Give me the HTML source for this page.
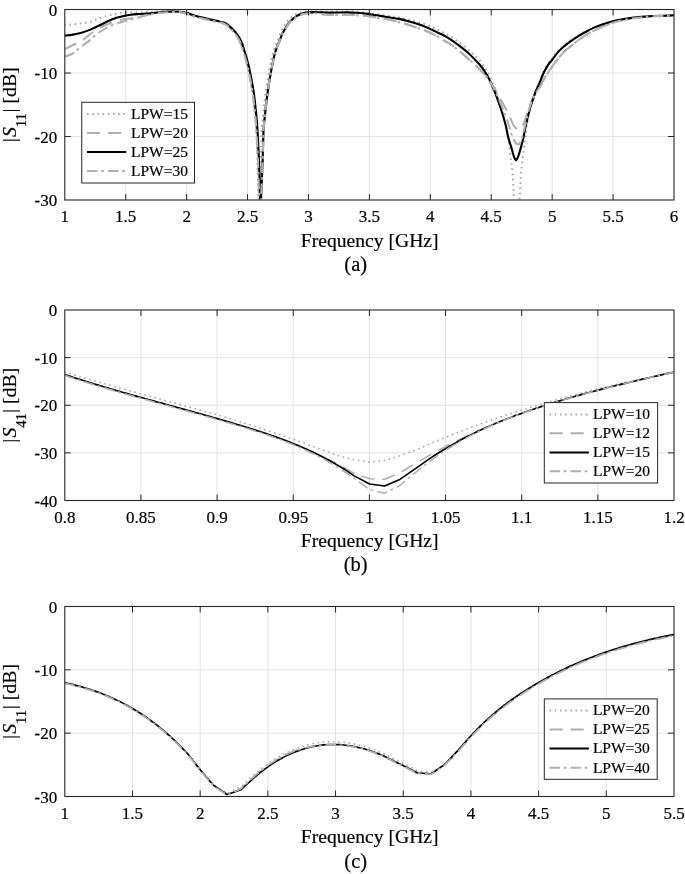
<!DOCTYPE html>
<html><head><meta charset="utf-8"><style>
html,body{margin:0;padding:0;background:#fff;width:685px;height:874px;overflow:hidden}
svg{display:block;will-change:transform}
text{font-family:"Liberation Serif",serif;stroke:#000;stroke-width:0.2px;paint-order:stroke}
</style></head><body>
<svg width="685" height="874" viewBox="0 0 685 874" font-family='"Liberation Serif", serif' fill="#000"><rect width="685" height="874" fill="#fff"/>
<path d="M125.72,9.5V200 M186.64,9.5V200 M247.56,9.5V200 M308.48,9.5V200 M369.4,9.5V200 M430.32,9.5V200 M491.24,9.5V200 M552.16,9.5V200 M613.08,9.5V200 M64.8,136.5H674 M64.8,73H674" stroke="#e3e3e3" stroke-width="1" fill="none"/>
<clipPath id="ca"><rect x="64.8" y="9.5" width="609.2" height="190.5"/></clipPath>
<path d="M64.3,24.9 C65.25,24.88 67.28,25.05 70,24.8 C72.72,24.55 77.08,23.95 80.6,23.4 C84.12,22.85 87.73,22.43 91.1,21.5 C94.47,20.57 97.43,18.9 100.8,17.8 C104.17,16.7 107.8,15.73 111.3,14.9 C114.8,14.07 118.45,13.22 121.8,12.8 C125.15,12.38 128.05,12.48 131.4,12.4 C134.75,12.32 138.7,12.37 141.9,12.3 C145.1,12.23 147.58,12.13 150.6,12 C153.62,11.87 156.43,11.63 160,11.5 C163.57,11.37 168.83,11.2 172,11.2 C175.17,11.2 176.58,11.27 179,11.5 C181.42,11.73 184.08,12.02 186.5,12.6 C188.92,13.18 190.87,14.2 193.5,15 C196.13,15.8 199.38,16.67 202.3,17.4 C205.22,18.13 208.38,18.82 211,19.4 C213.62,19.98 215.8,20.37 218,20.9 C220.2,21.43 222.45,21.88 224.2,22.6 C225.95,23.32 227.12,24.2 228.5,25.2 C229.88,26.2 231.25,27.4 232.5,28.6 C233.75,29.8 234.92,30.92 236,32.4 C237.08,33.88 238,35.48 239,37.5 C240,39.52 241.07,41.75 242,44.5 C242.93,47.25 243.77,50.92 244.6,54 C245.43,57.08 246.27,59.92 247,63 C247.73,66.08 248.1,67.77 249,72.5 C249.9,77.23 251.43,84.82 252.4,91.4 C253.37,97.98 254.17,105.57 254.8,112 C255.43,118.43 255.75,121.85 256.2,130 C256.65,138.15 257.13,149.23 257.5,160.9 C257.87,172.57 258.22,190.98 258.4,200 C258.58,209.02 258.57,212.5 258.6,215 M259.2,215 C259.23,212.5 259.13,209.02 259.4,200 C259.67,190.98 260.4,172.57 260.8,160.9 C261.2,149.23 261.37,138.15 261.8,130 C262.23,121.85 262.72,118.43 263.4,112 C264.08,105.57 265,97.92 265.9,91.4 C266.8,84.88 267.75,78.8 268.8,72.9 C269.85,67 271.25,60.07 272.2,56 C273.15,51.93 273.65,50.92 274.5,48.5 C275.35,46.08 276.33,44 277.3,41.5 C278.27,39 279.22,35.95 280.3,33.5 C281.38,31.05 282.5,28.98 283.8,26.8 C285.1,24.62 286.35,22.33 288.1,20.4 C289.85,18.47 292.25,16.5 294.3,15.2 C296.35,13.9 298.37,13.2 300.4,12.6 C302.43,12 304.23,11.8 306.5,11.6 C308.77,11.4 311.33,11.4 314,11.4 C316.67,11.4 319.83,11.55 322.5,11.6 C325.17,11.65 327.28,11.7 330,11.7 C332.72,11.7 335.88,11.63 338.8,11.6 C341.72,11.57 344.58,11.47 347.5,11.5 C350.42,11.53 353.38,11.63 356.3,11.8 C359.22,11.97 362.38,12.23 365,12.5 C367.62,12.77 369.5,13.05 372,13.4 C374.5,13.75 377,14.13 380,14.6 C383,15.07 386.87,15.73 390,16.2 C393.13,16.67 395.88,16.88 398.8,17.4 C401.72,17.92 404.58,18.6 407.5,19.3 C410.42,20 413.38,20.8 416.3,21.6 C419.22,22.4 422.38,23.2 425,24.1 C427.62,25 429.8,26.02 432,27 C434.2,27.98 436.15,29 438.2,30 C440.25,31 442.33,31.95 444.3,33 C446.27,34.05 447.58,34.8 450,36.3 C452.42,37.8 455.88,39.92 458.8,42 C461.72,44.08 464.58,46.3 467.5,48.8 C470.42,51.3 473.88,54.55 476.3,57 C478.72,59.45 480.38,61.42 482,63.5 C483.62,65.58 484.77,67.48 486,69.5 C487.23,71.52 488.4,73.6 489.4,75.6 C490.4,77.6 490.93,78.93 492,81.5 C493.07,84.07 494.3,86.75 495.8,91 C497.3,95.25 499.47,101.83 501,107 C502.53,112.17 503.77,116.57 505,122 C506.23,127.43 507.63,135.02 508.4,139.6 C509.17,144.18 509.17,146.02 509.6,149.5 C510.03,152.98 510.62,157.82 511,160.5 C511.38,163.18 511.6,163.05 511.9,165.6 C512.2,168.15 512.55,172.3 512.8,175.8 C513.05,179.3 513.22,183.1 513.4,186.6 C513.58,190.1 513.77,192.07 513.9,196.8 C514.03,201.53 514.15,211.97 514.2,215 M519.2,215 C519.23,212.38 519.28,202.8 519.4,199.3 C519.52,195.8 519.73,196.63 519.9,194 C520.07,191.37 520.2,186.95 520.4,183.5 C520.6,180.05 520.82,176.75 521.1,173.3 C521.38,169.85 521.63,166.95 522.1,162.8 C522.57,158.65 523.35,152.75 523.9,148.4 C524.45,144.05 524.92,140.6 525.4,136.7 C525.88,132.8 526.07,129.37 526.8,125 C527.53,120.63 528.83,114.67 529.8,110.5 C530.77,106.33 531.7,103.08 532.6,100 C533.5,96.92 534.1,94.92 535.2,92 C536.3,89.08 537.87,85.77 539.2,82.5 C540.53,79.23 541.77,75.45 543.2,72.4 C544.63,69.35 546.42,66.33 547.8,64.2 C549.18,62.07 550.22,61.27 551.5,59.6 C552.78,57.93 553.87,56.15 555.5,54.2 C557.13,52.25 558.88,50.1 561.3,47.9 C563.72,45.7 567.22,43.02 570,41 C572.78,38.98 575.5,37.3 578,35.8 C580.5,34.3 582.23,33.43 585,32 C587.77,30.57 590.57,28.87 594.6,27.2 C598.63,25.53 604.33,23.38 609.2,22 C614.07,20.62 618.93,19.73 623.8,18.9 C628.67,18.07 633.53,17.5 638.4,17 C643.27,16.5 646.98,16.2 653,15.9 C659.02,15.6 670.92,15.32 674.5,15.2" fill="none" stroke="#a8a8a8" stroke-width="2.1" stroke-linejoin="round" stroke-linecap="butt" stroke-dasharray="1.6 3.6" clip-path="url(#ca)"/>
<path d="M64.3,49.3 C66.15,48.38 72.1,45.52 75.4,43.8 C78.7,42.08 81.18,40.97 84.1,39 C87.02,37.03 89.97,34.03 92.9,32 C95.83,29.97 98.63,28.33 101.7,26.8 C104.77,25.27 107.95,23.97 111.3,22.8 C114.65,21.63 118.45,20.57 121.8,19.8 C125.15,19.03 128.35,18.73 131.4,18.2 C134.45,17.67 137.33,17.17 140.1,16.6 C142.87,16.03 145.52,15.33 148,14.8 C150.48,14.27 152.37,13.83 155,13.4 C157.63,12.97 160.88,12.47 163.8,12.2 C166.72,11.93 169.97,11.83 172.5,11.8 C175.03,11.77 176.67,11.7 179,12 C181.33,12.3 184.08,12.92 186.5,13.6 C188.92,14.28 190.87,15.28 193.5,16.1 C196.13,16.92 199.38,17.77 202.3,18.5 C205.22,19.23 208.38,19.92 211,20.5 C213.62,21.08 215.8,21.47 218,22 C220.2,22.53 222.45,22.97 224.2,23.7 C225.95,24.43 227.28,25.42 228.5,26.4 C229.72,27.38 230.42,28.4 231.5,29.6 C232.58,30.8 233.88,32.17 235,33.6 C236.12,35.03 237.12,36.25 238.2,38.2 C239.28,40.15 240.47,42.53 241.5,45.3 C242.53,48.07 243.48,51.72 244.4,54.8 C245.32,57.88 246.22,60.72 247,63.8 C247.78,66.88 248.17,68.57 249.1,73.3 C250.03,78.03 251.62,85.62 252.6,92.2 C253.58,98.78 254.35,106.37 255,112.8 C255.65,119.23 256,122.65 256.5,130.8 C257,138.95 257.55,150.17 258,161.7 C258.45,173.23 258.97,191.12 259.2,200 C259.43,208.88 259.37,212.5 259.4,215 M260.8,215 C260.83,212.5 260.7,209.02 261,200 C261.3,190.98 262.17,172.57 262.6,160.9 C263.03,149.23 263.15,138.15 263.6,130 C264.05,121.85 264.6,118.43 265.3,112 C266,105.57 266.88,97.92 267.8,91.4 C268.72,84.88 269.73,78.8 270.8,72.9 C271.87,67 273.25,60.07 274.2,56 C275.15,51.93 275.65,50.92 276.5,48.5 C277.35,46.08 278.33,43.85 279.3,41.5 C280.27,39.15 281.22,36.62 282.3,34.4 C283.38,32.18 284.5,30.27 285.8,28.2 C287.1,26.13 288.35,23.87 290.1,22 C291.85,20.13 294.25,18.28 296.3,17 C298.35,15.72 300.37,14.93 302.4,14.3 C304.43,13.67 306.57,13.37 308.5,13.2 C310.43,13.03 311.67,13.15 314,13.3 C316.33,13.45 319.83,13.82 322.5,14.1 C325.17,14.38 327.28,14.87 330,15 C332.72,15.13 335.88,14.94 338.8,14.91 C341.72,14.88 344.17,14.74 347.5,14.82 C350.83,14.89 355.15,15.11 358.8,15.34 C362.45,15.57 366.17,15.77 369.4,16.2 C372.63,16.63 374.77,17.3 378.2,17.9 C381.63,18.5 386.57,19.08 390,19.8 C393.43,20.52 395.88,21.42 398.8,22.2 C401.72,22.98 404.58,23.6 407.5,24.5 C410.42,25.4 413.38,26.61 416.3,27.6 C419.22,28.59 422.08,29.31 425,30.47 C427.92,31.63 430.58,32.87 433.8,34.56 C437.02,36.25 441.6,39.04 444.3,40.61 C447,42.18 447.58,42.34 450,44 C452.42,45.66 455.88,48.27 458.8,50.6 C461.72,52.93 464.58,55.45 467.5,58 C470.42,60.55 473.38,63.12 476.3,65.9 C479.22,68.68 482.72,72.02 485,74.7 C487.28,77.38 488.5,79.9 490,82 C491.5,84.1 492.67,85.22 494,87.3 C495.33,89.38 496.5,91.78 498,94.5 C499.5,97.22 501.3,100.47 503,103.6 C504.7,106.73 506.58,109.97 508.2,113.3 C509.82,116.63 511.48,121.18 512.7,123.6 C513.92,126.02 514.53,126.83 515.5,127.8 C516.47,128.77 517.67,129.3 518.5,129.4 C519.33,129.5 519.78,129.07 520.5,128.4 C521.22,127.73 522.05,126.8 522.8,125.4 C523.55,124 524.17,122.23 525,120 C525.83,117.77 526.87,114.67 527.8,112 C528.73,109.33 529.65,106.5 530.6,104 C531.55,101.5 532.52,99.08 533.5,97 C534.48,94.92 535.37,93.33 536.5,91.5 C537.63,89.67 538.95,88.25 540.3,86 C541.65,83.75 543.07,80.58 544.6,78 C546.13,75.42 547.93,72.83 549.5,70.5 C551.07,68.17 552.42,66.17 554,64 C555.58,61.83 557.17,59.67 559,57.5 C560.83,55.33 562.92,53 565,51 C567.08,49 569.12,47.42 571.5,45.5 C573.88,43.58 576.55,41.42 579.3,39.5 C582.05,37.58 585.05,35.7 588,34 C590.95,32.3 593.47,30.97 597,29.3 C600.53,27.63 604.73,25.55 609.2,24 C613.67,22.45 618.93,21.05 623.8,20 C628.67,18.95 633.53,18.3 638.4,17.7 C643.27,17.1 646.98,16.77 653,16.4 C659.02,16.03 670.92,15.65 674.5,15.5" fill="none" stroke="#b0b0b0" stroke-width="2.1" stroke-linejoin="round" stroke-linecap="butt" stroke-dasharray="13.2 7.8" clip-path="url(#ca)"/>
<path d="M64.3,35.6 C65.72,35.43 69.93,35.08 72.8,34.6 C75.67,34.12 78.58,33.53 81.5,32.7 C84.42,31.87 87.38,30.78 90.3,29.6 C93.22,28.42 96.08,27 99,25.6 C101.92,24.2 104.88,22.5 107.8,21.2 C110.72,19.9 113.8,18.68 116.5,17.8 C119.2,16.92 121.58,16.42 124,15.9 C126.42,15.38 128.5,15.02 131,14.7 C133.5,14.38 136.33,14.2 139,14 C141.67,13.8 144.33,13.7 147,13.5 C149.67,13.3 152.2,13.07 155,12.8 C157.8,12.53 160.88,12.12 163.8,11.9 C166.72,11.68 169.97,11.52 172.5,11.5 C175.03,11.48 176.67,11.58 179,11.8 C181.33,12.02 184.08,12.23 186.5,12.8 C188.92,13.37 190.87,14.4 193.5,15.2 C196.13,16 199.38,16.87 202.3,17.6 C205.22,18.33 208.38,19.02 211,19.6 C213.62,20.18 215.8,20.57 218,21.1 C220.2,21.63 222.45,22.08 224.2,22.8 C225.95,23.52 227.12,24.37 228.5,25.4 C229.88,26.43 231.25,27.75 232.5,29 C233.75,30.25 234.88,31.48 236,32.9 C237.12,34.32 238.12,35.57 239.2,37.5 C240.28,39.43 241.47,41.75 242.5,44.5 C243.53,47.25 244.48,50.92 245.4,54 C246.32,57.08 247.22,59.92 248,63 C248.78,66.08 249.17,67.77 250.1,72.5 C251.03,77.23 252.62,84.82 253.6,91.4 C254.58,97.98 255.35,105.57 256,112 C256.65,118.43 257,121.85 257.5,130 C258,138.15 258.55,149.23 259,160.9 C259.45,172.57 259.97,190.98 260.2,200 C260.43,209.02 260.37,212.5 260.4,215 M260.8,215 C260.83,212.5 260.7,209.02 261,200 C261.3,190.98 262.17,172.57 262.6,160.9 C263.03,149.23 263.15,138.15 263.6,130 C264.05,121.85 264.6,118.43 265.3,112 C266,105.57 266.88,97.92 267.8,91.4 C268.72,84.88 269.73,78.8 270.8,72.9 C271.87,67 273.25,60.07 274.2,56 C275.15,51.93 275.65,50.92 276.5,48.5 C277.35,46.08 278.33,43.93 279.3,41.5 C280.27,39.07 281.22,36.22 282.3,33.9 C283.38,31.58 284.5,29.67 285.8,27.6 C287.1,25.53 288.35,23.38 290.1,21.5 C291.85,19.62 294.25,17.62 296.3,16.3 C298.35,14.98 300.37,14.25 302.4,13.6 C304.43,12.95 306.57,12.65 308.5,12.4 C310.43,12.15 311.67,12.1 314,12.1 C316.33,12.1 319.83,12.32 322.5,12.4 C325.17,12.48 327.28,12.58 330,12.6 C332.72,12.62 335.88,12.53 338.8,12.5 C341.72,12.47 344.58,12.35 347.5,12.4 C350.42,12.45 353.38,12.6 356.3,12.8 C359.22,13 362.38,13.3 365,13.6 C367.62,13.9 369.5,14.22 372,14.6 C374.5,14.98 377,15.42 380,15.9 C383,16.38 386.87,17 390,17.5 C393.13,18 395.88,18.32 398.8,18.9 C401.72,19.48 404.58,20.22 407.5,21 C410.42,21.78 413.38,22.65 416.3,23.6 C419.22,24.55 422.38,25.67 425,26.7 C427.62,27.73 429.8,28.78 432,29.8 C434.2,30.82 436.15,31.82 438.2,32.8 C440.25,33.78 442.33,34.65 444.3,35.7 C446.27,36.75 447.58,37.5 450,39.1 C452.42,40.7 455.88,43.1 458.8,45.3 C461.72,47.5 464.58,49.67 467.5,52.3 C470.42,54.93 473.88,58.57 476.3,61.1 C478.72,63.63 480.38,65.43 482,67.5 C483.62,69.57 484.77,71.48 486,73.5 C487.23,75.52 488.4,77.6 489.4,79.6 C490.4,81.6 490.93,83 492,85.5 C493.07,88 494.3,90.65 495.8,94.6 C497.3,98.55 499.38,104.22 501,109.2 C502.62,114.18 504.32,119.92 505.5,124.5 C506.68,129.08 507.08,132.72 508.1,136.7 C509.12,140.68 510.62,145.08 511.6,148.4 C512.58,151.72 513.28,154.62 514,156.6 C514.72,158.58 515.23,160.27 515.9,160.3 C516.57,160.33 517.2,158.78 518,156.8 C518.8,154.82 519.77,151.75 520.7,148.4 C521.63,145.05 522.73,140.6 523.6,136.7 C524.47,132.8 524.87,129.58 525.9,125 C526.93,120.42 528.65,113.37 529.8,109.2 C530.95,105.03 531.85,102.87 532.8,100 C533.75,97.13 534.37,94.85 535.5,92 C536.63,89.15 538.23,86.1 539.6,82.9 C540.97,79.7 542.25,75.85 543.7,72.8 C545.15,69.75 546.92,66.73 548.3,64.6 C549.68,62.47 550.72,61.67 552,60 C553.28,58.33 554.37,56.55 556,54.6 C557.63,52.65 559.38,50.5 561.8,48.3 C564.22,46.1 567.73,43.43 570.5,41.4 C573.27,39.37 575.98,37.62 578.4,36.1 C580.82,34.58 582.3,33.75 585,32.3 C587.7,30.85 590.57,29.08 594.6,27.4 C598.63,25.72 604.33,23.6 609.2,22.2 C614.07,20.8 618.93,19.85 623.8,19 C628.67,18.15 633.53,17.6 638.4,17.1 C643.27,16.6 646.98,16.3 653,16 C659.02,15.7 670.92,15.42 674.5,15.3" fill="none" stroke="#000000" stroke-width="2.1" stroke-linejoin="round" stroke-linecap="butt" clip-path="url(#ca)"/>
<path d="M64.3,56.7 C65.72,56.17 70.52,54.77 72.8,53.5 C75.08,52.23 76.13,50.6 78,49.1 C79.87,47.6 81.95,46.03 84,44.5 C86.05,42.97 87.8,41.9 90.3,39.9 C92.8,37.9 95.5,34.9 99,32.5 C102.5,30.1 107.5,27.25 111.3,25.5 C115.1,23.75 118.45,23.02 121.8,22 C125.15,20.98 128.37,20.23 131.4,19.4 C134.43,18.57 136.9,17.82 140,17 C143.1,16.18 146.67,15.18 150,14.5 C153.33,13.82 156.67,13.3 160,12.9 C163.33,12.5 166.83,12.23 170,12.1 C173.17,11.97 176.25,11.85 179,12.1 C181.75,12.35 184.08,12.93 186.5,13.6 C188.92,14.27 190.87,15.28 193.5,16.1 C196.13,16.92 199.38,17.77 202.3,18.5 C205.22,19.23 208.38,19.92 211,20.5 C213.62,21.08 215.8,21.47 218,22 C220.2,22.53 222.45,22.97 224.2,23.7 C225.95,24.43 227.28,25.42 228.5,26.4 C229.72,27.38 230.42,28.4 231.5,29.6 C232.58,30.8 233.88,32.17 235,33.6 C236.12,35.03 237.12,36.25 238.2,38.2 C239.28,40.15 240.47,42.53 241.5,45.3 C242.53,48.07 243.48,51.72 244.4,54.8 C245.32,57.88 246.22,60.72 247,63.8 C247.78,66.88 248.17,68.57 249.1,73.3 C250.03,78.03 251.62,85.62 252.6,92.2 C253.58,98.78 254.35,106.37 255,112.8 C255.65,119.23 256,122.65 256.5,130.8 C257,138.95 257.55,150.17 258,161.7 C258.45,173.23 258.97,191.12 259.2,200 C259.43,208.88 259.37,212.5 259.4,215 M260.8,215 C260.83,212.5 260.7,209.02 261,200 C261.3,190.98 262.17,172.57 262.6,160.9 C263.03,149.23 263.15,138.15 263.6,130 C264.05,121.85 264.6,118.43 265.3,112 C266,105.57 266.88,97.92 267.8,91.4 C268.72,84.88 269.73,78.8 270.8,72.9 C271.87,67 273.25,60.07 274.2,56 C275.15,51.93 275.65,50.92 276.5,48.5 C277.35,46.08 278.33,43.85 279.3,41.5 C280.27,39.15 281.22,36.62 282.3,34.4 C283.38,32.18 284.5,30.27 285.8,28.2 C287.1,26.13 288.35,23.87 290.1,22 C291.85,20.13 294.25,18.28 296.3,17 C298.35,15.72 300.37,14.93 302.4,14.3 C304.43,13.67 306.57,13.37 308.5,13.2 C310.43,13.03 311.67,13.15 314,13.3 C316.33,13.45 319.83,13.82 322.5,14.1 C325.17,14.38 327.28,14.87 330,15 C332.72,15.13 335.88,14.94 338.8,14.91 C341.72,14.88 344.17,14.74 347.5,14.82 C350.83,14.89 355.15,15.11 358.8,15.34 C362.45,15.57 366.17,15.77 369.4,16.2 C372.63,16.63 374.77,17.3 378.2,17.9 C381.63,18.5 386.57,19.08 390,19.8 C393.43,20.52 395.88,21.42 398.8,22.2 C401.72,22.98 404.58,23.6 407.5,24.5 C410.42,25.4 413.38,26.61 416.3,27.6 C419.22,28.59 422.08,29.31 425,30.47 C427.92,31.63 430.58,32.87 433.8,34.56 C437.02,36.25 441.6,39.04 444.3,40.61 C447,42.18 447.58,42.34 450,44 C452.42,45.66 455.88,48.27 458.8,50.6 C461.72,52.93 464.58,55.45 467.5,58 C470.42,60.55 473.38,63.12 476.3,65.9 C479.22,68.68 482.72,72.02 485,74.7 C487.28,77.38 488.5,79.7 490,82 C491.5,84.3 492.25,85 494,88.5 C495.75,92 498.52,98.3 500.5,103 C502.48,107.7 504.43,112.7 505.9,116.7 C507.37,120.7 508.25,123.75 509.3,127 C510.35,130.25 511.25,133.73 512.2,136.2 C513.15,138.67 514.05,140.43 515,141.8 C515.95,143.17 517.15,144.12 517.9,144.4 C518.65,144.68 518.9,144.32 519.5,143.5 C520.1,142.68 520.87,141.25 521.5,139.5 C522.13,137.75 522.72,135.25 523.3,133 C523.88,130.75 524.38,128.67 525,126 C525.62,123.33 526.25,120 527,117 C527.75,114 528.58,110.92 529.5,108 C530.42,105.08 531.45,102 532.5,99.5 C533.55,97 534.5,95.17 535.8,93 C537.1,90.83 538.83,89 540.3,86.5 C541.77,84 543.07,80.67 544.6,78 C546.13,75.33 547.93,72.83 549.5,70.5 C551.07,68.17 552.42,66.17 554,64 C555.58,61.83 557.17,59.67 559,57.5 C560.83,55.33 562.92,53 565,51 C567.08,49 569.12,47.42 571.5,45.5 C573.88,43.58 576.55,41.42 579.3,39.5 C582.05,37.58 585.05,35.7 588,34 C590.95,32.3 593.47,30.97 597,29.3 C600.53,27.63 604.73,25.55 609.2,24 C613.67,22.45 618.93,21.05 623.8,20 C628.67,18.95 633.53,18.3 638.4,17.7 C643.27,17.1 646.98,16.77 653,16.4 C659.02,16.03 670.92,15.65 674.5,15.5" fill="none" stroke="#b0b0b0" stroke-width="2.1" stroke-linejoin="round" stroke-linecap="butt" stroke-dasharray="10.6 3.6 2.7 4.1" clip-path="url(#ca)"/>
<path d="M125.72,200v-6 M125.72,9.5v6 M186.64,200v-6 M186.64,9.5v6 M247.56,200v-6 M247.56,9.5v6 M308.48,200v-6 M308.48,9.5v6 M369.4,200v-6 M369.4,9.5v6 M430.32,200v-6 M430.32,9.5v6 M491.24,200v-6 M491.24,9.5v6 M552.16,200v-6 M552.16,9.5v6 M613.08,200v-6 M613.08,9.5v6 M64.8,136.5h6 M674,136.5h-6 M64.8,73h6 M674,73h-6" stroke="#262626" stroke-width="1" fill="none"/>
<rect x="64.8" y="9.5" width="609.2" height="190.5" fill="none" stroke="#262626" stroke-width="1.1"/>
<text x="64.8" y="222.1" font-size="17" text-anchor="middle">1</text>
<text x="125.72" y="222.1" font-size="17" text-anchor="middle">1.5</text>
<text x="186.64" y="222.1" font-size="17" text-anchor="middle">2</text>
<text x="247.56" y="222.1" font-size="17" text-anchor="middle">2.5</text>
<text x="308.48" y="222.1" font-size="17" text-anchor="middle">3</text>
<text x="369.4" y="222.1" font-size="17" text-anchor="middle">3.5</text>
<text x="430.32" y="222.1" font-size="17" text-anchor="middle">4</text>
<text x="491.24" y="222.1" font-size="17" text-anchor="middle">4.5</text>
<text x="552.16" y="222.1" font-size="17" text-anchor="middle">5</text>
<text x="613.08" y="222.1" font-size="17" text-anchor="middle">5.5</text>
<text x="674" y="222.1" font-size="17" text-anchor="middle">6</text>
<text x="57.2" y="206.1" font-size="17" text-anchor="end">-30</text>
<text x="57.2" y="142.6" font-size="17" text-anchor="end">-20</text>
<text x="57.2" y="79.1" font-size="17" text-anchor="end">-10</text>
<text x="57.2" y="15.6" font-size="17" text-anchor="end">0</text>
<text x="369.7" y="246.9" font-size="19.6" text-anchor="middle">Frequency [GHz]</text>
<text x="355.7" y="270.6" font-size="20.5" text-anchor="middle">(a)</text>
<g transform="rotate(-90)"><text x="-142.35" y="16.1" font-size="19.8">|</text><text x="-137" y="16.1" font-size="19.8" font-style="italic">S</text><text x="-127.3" y="25.7" font-size="14.8">11</text><text x="-112.45" y="16.1" font-size="19.8">| [dB]</text></g>
<rect x="81.75" y="102.3" width="112.75" height="80.7" fill="#fff" stroke="#262626" stroke-width="1"/>
<path d="M86.95,114H126.25" fill="none" stroke="#a8a8a8" stroke-width="2" stroke-linejoin="round" stroke-linecap="butt" stroke-dasharray="1.6 3.6"/>
<text x="130.95" y="118.8" font-size="15.5">LPW=15</text>
<path d="M86.95,133H126.25" fill="none" stroke="#b0b0b0" stroke-width="2" stroke-linejoin="round" stroke-linecap="butt" stroke-dasharray="13.2 7.8"/>
<text x="130.95" y="137.8" font-size="15.5">LPW=20</text>
<path d="M86.95,152H126.25" fill="none" stroke="#000000" stroke-width="2" stroke-linejoin="round" stroke-linecap="butt"/>
<text x="130.95" y="156.8" font-size="15.5">LPW=25</text>
<path d="M86.95,171H126.25" fill="none" stroke="#b0b0b0" stroke-width="2" stroke-linejoin="round" stroke-linecap="butt" stroke-dasharray="10.6 3.6 2.7 4.1"/>
<text x="130.95" y="175.8" font-size="15.5">LPW=30</text>
<path d="M140.95,310V500.5 M217.1,310V500.5 M293.25,310V500.5 M369.4,310V500.5 M445.55,310V500.5 M521.7,310V500.5 M597.85,310V500.5 M64.8,452.88H674 M64.8,405.25H674 M64.8,357.62H674" stroke="#e3e3e3" stroke-width="1" fill="none"/>
<clipPath id="cb"><rect x="64.8" y="310" width="609.2" height="190.5"/></clipPath>
<path d="M64.3,371.88 L66.3,372.49 L68.3,373.09 L70.3,373.7 L72.3,374.3 L74.3,374.9 L76.3,375.49 L78.3,376.09 L80.3,376.68 L82.3,377.27 L84.3,377.86 L86.3,378.45 L88.3,379.04 L90.3,379.62 L92.3,380.2 L94.3,380.78 L96.3,381.36 L98.3,381.94 L100.3,382.52 L102.3,383.09 L104.3,383.66 L106.3,384.23 L108.3,384.8 L110.3,385.37 L112.3,385.94 L114.3,386.5 L116.3,387.07 L118.3,387.63 L120.3,388.19 L122.3,388.75 L124.3,389.31 L126.3,389.87 L128.3,390.43 L130.3,390.98 L132.3,391.54 L134.3,392.09 L136.3,392.64 L138.3,393.2 L140.3,393.75 L142.3,394.3 L144.3,394.85 L146.3,395.4 L148.3,395.94 L150.3,396.49 L152.3,397.04 L154.3,397.58 L156.3,398.13 L158.3,398.67 L160.3,399.22 L162.3,399.76 L164.3,400.3 L166.3,400.84 L168.3,401.39 L170.3,401.93 L172.3,402.47 L174.3,403.01 L176.3,403.55 L178.3,404.09 L180.3,404.64 L182.3,405.18 L184.3,405.72 L186.3,406.27 L188.3,406.81 L190.3,407.36 L192.3,407.9 L194.3,408.45 L196.3,409 L198.3,409.55 L200.3,410.11 L202.3,410.66 L204.3,411.22 L206.3,411.78 L208.3,412.34 L210.3,412.9 L212.3,413.47 L214.3,414.04 L216.3,414.61 L218.3,415.18 L220.3,415.76 L222.3,416.34 L224.3,416.92 L226.3,417.51 L228.3,418.1 L230.3,418.69 L232.3,419.29 L234.3,419.89 L236.3,420.5 L238.3,421.11 L240.3,421.72 L242.3,422.34 L244.3,422.96 L246.3,423.59 L248.3,424.22 L250.3,424.85 L252.3,425.49 L254.3,426.14 L256.3,426.78 L258.3,427.43 L260.3,428.09 L262.3,428.75 L264.3,429.41 L266.3,430.07 L268.3,430.74 L270.3,431.42 L272.3,432.09 L274.3,432.77 L276.3,433.45 L278.3,434.14 L280.3,434.83 L282.3,435.52 L284.3,436.21 L286.3,436.91 L288.3,437.61 L290.3,438.31 L292.3,439.01 L294.3,439.72 L296.3,440.43 L298.3,441.14 L300.3,441.86 L302.3,442.57 L304.3,443.29 L306.3,444.01 L308.3,444.73 L310.3,445.46 L312.3,446.19 L314.3,446.91 L316.3,447.64 L318.3,448.38 L320.3,449.11 L322.3,449.84 L324.3,450.58 L326.3,451.32 L328.3,452.06 L330.3,452.8 L332.3,453.54 L334.3,454.28 L336.3,455.02 L338.3,455.77 L340,456.4 L354.2,459.8 L369.6,462.1 L384.7,460.4 L399.8,455.8 L415,450.2 L430,443.9 L432,443.05 L434,442.2 L436,441.35 L438,440.51 L440,439.68 L442,438.86 L444,438.03 L446,437.22 L448,436.41 L450,435.6 L452,434.8 L454,434.01 L456,433.22 L458,432.43 L460,431.65 L462,430.88 L464,430.11 L466,429.35 L468,428.59 L470,427.84 L472,427.09 L474,426.35 L476,425.61 L478,424.87 L480,424.15 L482,423.42 L484,422.7 L486,421.99 L488,421.28 L490,420.58 L492,419.88 L494,419.18 L496,418.49 L498,417.81 L500,417.12 L502,416.45 L504,415.78 L506,415.11 L508,414.45 L510,413.79 L512,413.13 L514,412.48 L516,411.84 L518,411.2 L520,410.56 L522,409.93 L524,409.3 L526,408.68 L528,408.06 L530,407.45 L532,406.83 L534,406.23 L536,405.62 L538,405.03 L540,404.43 L542,403.84 L544,403.25 L546,402.67 L548,402.09 L550,401.52 L552,400.95 L554,400.38 L556,399.82 L558,399.26 L560,398.7 L562,398.15 L564,397.6 L566,397.05 L568,396.51 L570,395.98 L572,395.44 L574,394.91 L576,394.38 L578,393.86 L580,393.34 L582,392.82 L584,392.31 L586,391.8 L588,391.29 L590,390.79 L592,390.29 L594,389.79 L596,389.3 L598,388.81 L600,388.32 L602,387.84 L604,387.36 L606,386.88 L608,386.4 L610,385.93 L612,385.46 L614,385 L616,384.53 L618,384.07 L620,383.62 L622,383.16 L624,382.71 L626,382.26 L628,381.81 L630,381.37 L632,380.93 L634,380.49 L636,380.06 L638,379.62 L640,379.19 L642,378.76 L644,378.34 L646,377.92 L648,377.5 L650,377.08 L652,376.66 L654,376.25 L656,375.84 L658,375.43 L660,375.02 L662,374.62 L664,374.22 L666,373.82 L668,373.42 L670,373.02 L672,372.63 L674,372.24 L674.5,372.14" fill="none" stroke="#a8a8a8" stroke-width="1.6" stroke-linejoin="round" stroke-linecap="butt" stroke-dasharray="1.6 3.6" clip-path="url(#cb)"/>
<path d="M64.3,374.83 L66.3,375.51 L68.3,376.18 L70.3,376.85 L72.3,377.52 L74.3,378.18 L76.3,378.83 L78.3,379.48 L80.3,380.13 L82.3,380.77 L84.3,381.4 L86.3,382.03 L88.3,382.66 L90.3,383.28 L92.3,383.9 L94.3,384.52 L96.3,385.13 L98.3,385.73 L100.3,386.34 L102.3,386.94 L104.3,387.53 L106.3,388.12 L108.3,388.71 L110.3,389.3 L112.3,389.88 L114.3,390.46 L116.3,391.04 L118.3,391.62 L120.3,392.19 L122.3,392.76 L124.3,393.32 L126.3,393.89 L128.3,394.45 L130.3,395.01 L132.3,395.57 L134.3,396.13 L136.3,396.68 L138.3,397.24 L140.3,397.79 L142.3,398.34 L144.3,398.89 L146.3,399.44 L148.3,399.98 L150.3,400.53 L152.3,401.07 L154.3,401.62 L156.3,402.16 L158.3,402.71 L160.3,403.25 L162.3,403.79 L164.3,404.33 L166.3,404.87 L168.3,405.42 L170.3,405.96 L172.3,406.5 L174.3,407.04 L176.3,407.59 L178.3,408.13 L180.3,408.67 L182.3,409.22 L184.3,409.76 L186.3,410.31 L188.3,410.86 L190.3,411.41 L192.3,411.96 L194.3,412.51 L196.3,413.06 L198.3,413.62 L200.3,414.17 L202.3,414.73 L204.3,415.29 L206.3,415.85 L208.3,416.42 L210.3,416.98 L212.3,417.55 L214.3,418.12 L216.3,418.7 L218.3,419.27 L220.3,419.85 L222.3,420.44 L224.3,421.02 L226.3,421.61 L228.3,422.2 L230.3,422.8 L232.3,423.39 L234.3,424 L236.3,424.6 L238.3,425.21 L240.3,425.82 L242.3,426.44 L244.3,427.06 L246.3,427.69 L248.3,428.32 L250.3,428.96 L252.3,429.6 L254.3,430.24 L256.3,430.89 L258.3,431.55 L260.3,432.21 L262.3,432.88 L264.3,433.55 L266.3,434.23 L268.3,434.92 L270.3,435.61 L272.3,436.31 L274.3,437.02 L276.3,437.74 L278.3,438.46 L280.3,439.19 L282.3,439.93 L284.3,440.68 L286.3,441.43 L288.3,442.19 L290.3,442.97 L292.3,443.75 L294.3,444.54 L296.3,445.34 L298.3,446.14 L300.3,446.96 L302.3,447.79 L304.3,448.63 L306.3,449.48 L308.3,450.34 L310.3,451.21 L312.3,452.09 L314.3,452.98 L316.3,453.88 L318.3,454.8 L320.3,455.72 L322.3,456.66 L324.3,457.61 L326.3,458.57 L328.3,459.55 L330.3,460.54 L332.3,461.54 L334.3,462.55 L336.3,463.58 L338.3,464.61 L340.3,465.67 L342.3,466.74 L344.3,467.82 L345,468.2 L354.2,473.5 L369.6,478.8 L384.7,479.3 L399.8,472.8 L415.1,463.5 L430,455 L432,453.87 L434,452.74 L436,451.63 L438,450.54 L440,449.45 L442,448.37 L444,447.31 L446,446.25 L448,445.21 L450,444.17 L452,443.15 L454,442.13 L456,441.13 L458,440.14 L460,439.16 L462,438.18 L464,437.22 L466,436.27 L468,435.32 L470,434.39 L472,433.46 L474,432.55 L476,431.64 L478,430.75 L480,429.86 L482,428.98 L484,428.11 L486,427.25 L488,426.4 L490,425.55 L492,424.72 L494,423.89 L496,423.07 L498,422.26 L500,421.46 L502,420.67 L504,419.88 L506,419.11 L508,418.33 L510,417.57 L512,416.82 L514,416.07 L516,415.33 L518,414.6 L520,413.87 L522,413.15 L524,412.44 L526,411.74 L528,411.04 L530,410.35 L532,409.66 L534,408.98 L536,408.31 L538,407.65 L540,406.99 L542,406.33 L544,405.69 L546,405.05 L548,404.41 L550,403.78 L552,403.16 L554,402.54 L556,401.93 L558,401.32 L560,400.72 L562,400.12 L564,399.53 L566,398.94 L568,398.36 L570,397.78 L572,397.21 L574,396.64 L576,396.08 L578,395.52 L580,394.96 L582,394.41 L584,393.86 L586,393.32 L588,392.78 L590,392.25 L592,391.72 L594,391.19 L596,390.67 L598,390.15 L600,389.63 L602,389.11 L604,388.6 L606,388.1 L608,387.59 L610,387.09 L612,386.59 L614,386.09 L616,385.6 L618,385.11 L620,384.62 L622,384.13 L624,383.65 L626,383.17 L628,382.69 L630,382.21 L632,381.73 L634,381.26 L636,380.78 L638,380.31 L640,379.84 L642,379.37 L644,378.9 L646,378.44 L648,377.97 L650,377.51 L652,377.04 L654,376.58 L656,376.12 L658,375.66 L660,375.19 L662,374.73 L664,374.27 L666,373.81 L668,373.35 L670,372.89 L672,372.43 L674,371.97 L674.5,371.86" fill="none" stroke="#b0b0b0" stroke-width="1.6" stroke-linejoin="round" stroke-linecap="butt" stroke-dasharray="13.2 7.8" clip-path="url(#cb)"/>
<path d="M64.3,374.4 L66.3,375.06 L68.3,375.72 L70.3,376.38 L72.3,377.03 L74.3,377.67 L76.3,378.31 L78.3,378.95 L80.3,379.59 L82.3,380.22 L84.3,380.85 L86.3,381.47 L88.3,382.09 L90.3,382.7 L92.3,383.32 L94.3,383.93 L96.3,384.53 L98.3,385.14 L100.3,385.74 L102.3,386.33 L104.3,386.93 L106.3,387.52 L108.3,388.11 L110.3,388.7 L112.3,389.28 L114.3,389.86 L116.3,390.44 L118.3,391.02 L120.3,391.59 L122.3,392.17 L124.3,392.74 L126.3,393.31 L128.3,393.87 L130.3,394.44 L132.3,395 L134.3,395.56 L136.3,396.12 L138.3,396.68 L140.3,397.24 L142.3,397.8 L144.3,398.35 L146.3,398.91 L148.3,399.46 L150.3,400.01 L152.3,400.57 L154.3,401.12 L156.3,401.67 L158.3,402.22 L160.3,402.77 L162.3,403.32 L164.3,403.86 L166.3,404.41 L168.3,404.96 L170.3,405.51 L172.3,406.06 L174.3,406.61 L176.3,407.16 L178.3,407.71 L180.3,408.26 L182.3,408.81 L184.3,409.36 L186.3,409.91 L188.3,410.46 L190.3,411.01 L192.3,411.57 L194.3,412.12 L196.3,412.68 L198.3,413.23 L200.3,413.79 L202.3,414.35 L204.3,414.91 L206.3,415.48 L208.3,416.04 L210.3,416.61 L212.3,417.17 L214.3,417.74 L216.3,418.32 L218.3,418.89 L220.3,419.47 L222.3,420.04 L224.3,420.62 L226.3,421.21 L228.3,421.79 L230.3,422.38 L232.3,422.97 L234.3,423.56 L236.3,424.16 L238.3,424.76 L240.3,425.36 L242.3,425.96 L244.3,426.57 L246.3,427.18 L248.3,427.8 L250.3,428.42 L252.3,429.04 L254.3,429.68 L256.3,430.31 L258.3,430.95 L260.3,431.6 L262.3,432.26 L264.3,432.92 L266.3,433.59 L268.3,434.27 L270.3,434.95 L272.3,435.64 L274.3,436.35 L276.3,437.06 L278.3,437.78 L280.3,438.51 L282.3,439.25 L284.3,440 L286.3,440.77 L288.3,441.54 L290.3,442.33 L292.3,443.12 L294.3,443.93 L296.3,444.76 L298.3,445.59 L300.3,446.44 L302.3,447.31 L304.3,448.18 L306.3,449.08 L308.3,449.98 L310.3,450.9 L312.3,451.84 L314.3,452.8 L316.3,453.77 L318.3,454.75 L320.3,455.76 L322.3,456.78 L324.3,457.82 L326.3,458.87 L328.3,459.95 L330.3,461.04 L332.3,462.16 L334.3,463.29 L336.3,464.44 L338.3,465.62 L340.3,466.81 L342.3,468.02 L344.3,469.26 L345,469.7 L354.2,475.9 L369.6,484 L384.7,486 L399.8,479.4 L415.1,468.8 L430,458.4 L432,457.08 L434,455.78 L436,454.5 L438,453.23 L440,451.99 L442,450.76 L444,449.54 L446,448.35 L448,447.17 L450,446.01 L452,444.86 L454,443.73 L456,442.62 L458,441.52 L460,440.43 L462,439.36 L464,438.31 L466,437.27 L468,436.25 L470,435.23 L472,434.24 L474,433.25 L476,432.28 L478,431.33 L480,430.39 L482,429.45 L484,428.54 L486,427.63 L488,426.74 L490,425.86 L492,424.99 L494,424.13 L496,423.28 L498,422.44 L500,421.62 L502,420.8 L504,420 L506,419.2 L508,418.42 L510,417.64 L512,416.88 L514,416.12 L516,415.37 L518,414.63 L520,413.9 L522,413.18 L524,412.47 L526,411.76 L528,411.06 L530,410.37 L532,409.69 L534,409.01 L536,408.34 L538,407.68 L540,407.02 L542,406.37 L544,405.72 L546,405.08 L548,404.45 L550,403.82 L552,403.2 L554,402.58 L556,401.96 L558,401.36 L560,400.75 L562,400.16 L564,399.56 L566,398.97 L568,398.39 L570,397.81 L572,397.24 L574,396.67 L576,396.1 L578,395.54 L580,394.98 L582,394.43 L584,393.88 L586,393.34 L588,392.8 L590,392.26 L592,391.73 L594,391.2 L596,390.67 L598,390.15 L600,389.63 L602,389.11 L604,388.6 L606,388.09 L608,387.58 L610,387.08 L612,386.58 L614,386.08 L616,385.58 L618,385.09 L620,384.6 L622,384.11 L624,383.62 L626,383.14 L628,382.66 L630,382.18 L632,381.7 L634,381.23 L636,380.75 L638,380.28 L640,379.81 L642,379.34 L644,378.88 L646,378.41 L648,377.95 L650,377.48 L652,377.02 L654,376.56 L656,376.1 L658,375.64 L660,375.18 L662,374.72 L664,374.27 L666,373.81 L668,373.35 L670,372.9 L672,372.44 L674,371.99 L674.5,371.87" fill="none" stroke="#000000" stroke-width="1.6" stroke-linejoin="round" stroke-linecap="butt" clip-path="url(#cb)"/>
<path d="M64.3,375.18 L66.3,375.84 L68.3,376.51 L70.3,377.17 L72.3,377.82 L74.3,378.47 L76.3,379.12 L78.3,379.76 L80.3,380.4 L82.3,381.03 L84.3,381.66 L86.3,382.29 L88.3,382.91 L90.3,383.53 L92.3,384.15 L94.3,384.76 L96.3,385.37 L98.3,385.97 L100.3,386.58 L102.3,387.18 L104.3,387.77 L106.3,388.37 L108.3,388.96 L110.3,389.55 L112.3,390.13 L114.3,390.72 L116.3,391.3 L118.3,391.88 L120.3,392.45 L122.3,393.03 L124.3,393.6 L126.3,394.17 L128.3,394.74 L130.3,395.3 L132.3,395.87 L134.3,396.43 L136.3,396.99 L138.3,397.56 L140.3,398.11 L142.3,398.67 L144.3,399.23 L146.3,399.78 L148.3,400.34 L150.3,400.89 L152.3,401.45 L154.3,402 L156.3,402.55 L158.3,403.1 L160.3,403.65 L162.3,404.2 L164.3,404.75 L166.3,405.3 L168.3,405.85 L170.3,406.4 L172.3,406.95 L174.3,407.5 L176.3,408.05 L178.3,408.6 L180.3,409.15 L182.3,409.7 L184.3,410.26 L186.3,410.81 L188.3,411.36 L190.3,411.92 L192.3,412.47 L194.3,413.03 L196.3,413.59 L198.3,414.15 L200.3,414.71 L202.3,415.27 L204.3,415.83 L206.3,416.39 L208.3,416.96 L210.3,417.53 L212.3,418.1 L214.3,418.67 L216.3,419.24 L218.3,419.82 L220.3,420.4 L222.3,420.98 L224.3,421.56 L226.3,422.15 L228.3,422.73 L230.3,423.32 L232.3,423.92 L234.3,424.51 L236.3,425.11 L238.3,425.71 L240.3,426.32 L242.3,426.93 L244.3,427.54 L246.3,428.16 L248.3,428.78 L250.3,429.4 L252.3,430.03 L254.3,430.67 L256.3,431.31 L258.3,431.96 L260.3,432.61 L262.3,433.27 L264.3,433.94 L266.3,434.62 L268.3,435.31 L270.3,436 L272.3,436.7 L274.3,437.42 L276.3,438.14 L278.3,438.87 L280.3,439.62 L282.3,440.37 L284.3,441.14 L286.3,441.92 L288.3,442.71 L290.3,443.52 L292.3,444.34 L294.3,445.17 L296.3,446.01 L298.3,446.87 L300.3,447.75 L302.3,448.64 L304.3,449.54 L306.3,450.46 L308.3,451.4 L310.3,452.35 L312.3,453.33 L314.3,454.31 L316.3,455.32 L318.3,456.35 L320.3,457.39 L322.3,458.46 L324.3,459.54 L326.3,460.64 L328.3,461.77 L330.3,462.91 L332.3,464.08 L334.3,465.26 L336.3,466.47 L338.3,467.7 L340.3,468.96 L342.3,470.24 L344.3,471.54 L345,472 L354.2,478.3 L369.6,489.6 L384.7,493.2 L399.8,485.5 L415.1,472.8 L430,461 L432,459.55 L434,458.13 L436,456.73 L438,455.35 L440,453.99 L442,452.66 L444,451.34 L446,450.05 L448,448.78 L450,447.53 L452,446.29 L454,445.08 L456,443.89 L458,442.72 L460,441.56 L462,440.42 L464,439.31 L466,438.2 L468,437.12 L470,436.05 L472,435.01 L474,433.97 L476,432.96 L478,431.96 L480,430.97 L482,430 L484,429.05 L486,428.11 L488,427.18 L490,426.27 L492,425.38 L494,424.49 L496,423.62 L498,422.76 L500,421.92 L502,421.09 L504,420.26 L506,419.45 L508,418.66 L510,417.87 L512,417.09 L514,416.33 L516,415.57 L518,414.83 L520,414.09 L522,413.36 L524,412.64 L526,411.93 L528,411.23 L530,410.54 L532,409.85 L534,409.17 L536,408.5 L538,407.84 L540,407.18 L542,406.52 L544,405.88 L546,405.24 L548,404.6 L550,403.97 L552,403.34 L554,402.73 L556,402.11 L558,401.5 L560,400.9 L562,400.3 L564,399.7 L566,399.11 L568,398.53 L570,397.95 L572,397.37 L574,396.8 L576,396.23 L578,395.67 L580,395.11 L582,394.55 L584,394 L586,393.46 L588,392.91 L590,392.37 L592,391.84 L594,391.31 L596,390.78 L598,390.25 L600,389.73 L602,389.21 L604,388.7 L606,388.19 L608,387.68 L610,387.17 L612,386.67 L614,386.17 L616,385.67 L618,385.18 L620,384.69 L622,384.2 L624,383.71 L626,383.23 L628,382.74 L630,382.26 L632,381.79 L634,381.31 L636,380.84 L638,380.37 L640,379.9 L642,379.43 L644,378.96 L646,378.49 L648,378.03 L650,377.57 L652,377.11 L654,376.65 L656,376.19 L658,375.73 L660,375.27 L662,374.82 L664,374.36 L666,373.91 L668,373.45 L670,373 L672,372.55 L674,372.1 L674.5,371.98" fill="none" stroke="#b0b0b0" stroke-width="1.6" stroke-linejoin="round" stroke-linecap="butt" stroke-dasharray="10.6 3.6 2.7 4.1" clip-path="url(#cb)"/>
<path d="M140.95,500.5v-6 M140.95,310v6 M217.1,500.5v-6 M217.1,310v6 M293.25,500.5v-6 M293.25,310v6 M369.4,500.5v-6 M369.4,310v6 M445.55,500.5v-6 M445.55,310v6 M521.7,500.5v-6 M521.7,310v6 M597.85,500.5v-6 M597.85,310v6 M64.8,452.88h6 M674,452.88h-6 M64.8,405.25h6 M674,405.25h-6 M64.8,357.62h6 M674,357.62h-6" stroke="#262626" stroke-width="1" fill="none"/>
<rect x="64.8" y="310" width="609.2" height="190.5" fill="none" stroke="#262626" stroke-width="1.1"/>
<text x="64.8" y="522.6" font-size="17" text-anchor="middle">0.8</text>
<text x="140.95" y="522.6" font-size="17" text-anchor="middle">0.85</text>
<text x="217.1" y="522.6" font-size="17" text-anchor="middle">0.9</text>
<text x="293.25" y="522.6" font-size="17" text-anchor="middle">0.95</text>
<text x="369.4" y="522.6" font-size="17" text-anchor="middle">1</text>
<text x="445.55" y="522.6" font-size="17" text-anchor="middle">1.05</text>
<text x="521.7" y="522.6" font-size="17" text-anchor="middle">1.1</text>
<text x="597.85" y="522.6" font-size="17" text-anchor="middle">1.15</text>
<text x="674" y="522.6" font-size="17" text-anchor="middle">1.2</text>
<text x="57.2" y="506.6" font-size="17" text-anchor="end">-40</text>
<text x="57.2" y="458.98" font-size="17" text-anchor="end">-30</text>
<text x="57.2" y="411.35" font-size="17" text-anchor="end">-20</text>
<text x="57.2" y="363.73" font-size="17" text-anchor="end">-10</text>
<text x="57.2" y="316.1" font-size="17" text-anchor="end">0</text>
<text x="369.7" y="547.4" font-size="19.6" text-anchor="middle">Frequency [GHz]</text>
<text x="355.7" y="570.6" font-size="20.5" text-anchor="middle">(b)</text>
<g transform="rotate(-90)"><text x="-442.85" y="16.1" font-size="19.8">|</text><text x="-437.5" y="16.1" font-size="19.8" font-style="italic">S</text><text x="-427.8" y="25.7" font-size="14.8">41</text><text x="-412.95" y="16.1" font-size="19.8">| [dB]</text></g>
<rect x="544.3" y="402.6" width="113.3" height="80.4" fill="#fff" stroke="#262626" stroke-width="1"/>
<path d="M549.5,414.6H588.8" fill="none" stroke="#a8a8a8" stroke-width="2" stroke-linejoin="round" stroke-linecap="butt" stroke-dasharray="1.6 3.6"/>
<text x="593" y="419.4" font-size="15.5">LPW=10</text>
<path d="M549.5,433.3H588.8" fill="none" stroke="#b0b0b0" stroke-width="2" stroke-linejoin="round" stroke-linecap="butt" stroke-dasharray="13.2 7.8"/>
<text x="593" y="438.1" font-size="15.5">LPW=12</text>
<path d="M549.5,452.5H588.8" fill="none" stroke="#000000" stroke-width="2" stroke-linejoin="round" stroke-linecap="butt"/>
<text x="593" y="457.3" font-size="15.5">LPW=15</text>
<path d="M549.5,471.2H588.8" fill="none" stroke="#b0b0b0" stroke-width="2" stroke-linejoin="round" stroke-linecap="butt" stroke-dasharray="10.6 3.6 2.7 4.1"/>
<text x="593" y="476" font-size="15.5">LPW=20</text>
<path d="M132.49,606.5V796.5 M200.18,606.5V796.5 M267.87,606.5V796.5 M335.56,606.5V796.5 M403.24,606.5V796.5 M470.93,606.5V796.5 M538.62,606.5V796.5 M606.31,606.5V796.5 M64.8,733.17H674 M64.8,669.83H674" stroke="#e3e3e3" stroke-width="1" fill="none"/>
<clipPath id="cc"><rect x="64.8" y="606.5" width="609.2" height="190"/></clipPath>
<path d="M64.3,682.19 L66.3,682.64 L68.3,683.11 L70.3,683.59 L72.3,684.08 L74.3,684.59 L76.3,685.11 L78.3,685.65 L80.3,686.2 L82.3,686.78 L84.3,687.37 L86.3,687.98 L88.3,688.6 L90.3,689.25 L92.3,689.91 L94.3,690.6 L96.3,691.3 L98.3,692.03 L100.3,692.78 L102.3,693.55 L104.3,694.34 L106.3,695.16 L108.3,695.99 L110.3,696.86 L112.3,697.74 L114.3,698.65 L116.3,699.59 L118.3,700.55 L120.3,701.54 L122.3,702.56 L124.3,703.6 L126.3,704.67 L128.3,705.77 L130.3,706.89 L132.3,708.05 L134.3,709.23 L136.3,710.45 L138.3,711.7 L140.3,712.97 L142.3,714.28 L144.3,715.62 L146.3,717 L148.3,718.4 L150.3,719.84 L152.3,721.31 L154.3,722.82 L156.3,724.37 L158.3,725.94 L160.3,727.56 L162.3,729.21 L164.3,730.9 L166.3,732.62 L168.3,734.38 L170.3,736.18 L172.3,738.02 L174.3,739.9 L176.3,741.82 L178.3,743.78 L180.3,745.78 L182.3,747.82 L184.3,749.9 L186.3,752.02 L188.3,754.19 L189.4,755.4 L200.4,769.7 L213.7,785.1 L227.3,793.46 L240.9,786.8 L247.8,780.5 L249.8,778.62 L251.8,776.78 L253.8,775 L255.8,773.27 L257.8,771.59 L259.8,769.96 L261.8,768.37 L263.8,766.84 L265.8,765.35 L267.8,763.91 L269.8,762.52 L271.8,761.18 L273.8,759.88 L275.8,758.63 L277.8,757.43 L279.8,756.28 L281.8,755.17 L283.8,754.11 L285.8,753.09 L287.8,752.12 L289.8,751.19 L291.8,750.31 L293.8,749.48 L295.8,748.68 L297.8,747.94 L299.8,747.23 L301.8,746.57 L303.8,745.96 L305.8,745.38 L307.8,744.85 L309.8,744.36 L311.8,743.92 L313.8,743.52 L315.8,743.15 L317.8,742.83 L319.8,742.55 L321.8,742.32 L323.8,742.12 L325.8,741.96 L327.8,741.84 L329.8,741.77 L331.8,741.73 L333.8,741.73 L335.8,741.77 L337.8,741.85 L339.8,741.97 L341.8,742.13 L343.8,742.32 L345.8,742.55 L347.8,742.82 L349.8,743.13 L351.8,743.48 L353.8,743.86 L355.8,744.27 L357.8,744.73 L359.8,745.21 L361.8,745.74 L363.8,746.3 L365.8,746.89 L367.8,747.52 L369.8,748.19 L371.8,748.88 L373.8,749.62 L375.8,750.38 L377.8,751.18 L379.8,752.01 L381.8,752.88 L383.8,753.78 L385.8,754.71 L387.8,755.67 L389.8,756.66 L391.8,757.69 L393.8,758.74 L395,759.39 L403.5,763.56 L417.8,770.98 L431.3,772.47 L444.7,764.18 L458,750.1 L460,747.78 L462,745.47 L464,743.2 L466,740.95 L468,738.72 L470,736.53 L472,734.38 L474,732.26 L476,730.17 L478,728.13 L480,726.12 L482,724.16 L484,722.24 L486,720.36 L488,718.52 L490,716.72 L492,714.96 L494,713.24 L496,711.55 L498,709.9 L500,708.28 L502,706.7 L504,705.14 L506,703.62 L508,702.12 L510,700.66 L512,699.22 L514,697.81 L516,696.42 L518,695.06 L520,693.72 L522,692.41 L524,691.11 L526,689.84 L528,688.58 L530,687.35 L532,686.13 L534,684.93 L536,683.74 L538,682.57 L540,681.42 L542,680.29 L544,679.17 L546,678.07 L548,676.98 L550,675.91 L552,674.86 L554,673.82 L556,672.8 L558,671.79 L560,670.79 L562,669.82 L564,668.85 L566,667.91 L568,666.97 L570,666.05 L572,665.15 L574,664.26 L576,663.38 L578,662.51 L580,661.66 L582,660.83 L584,660.01 L586,659.19 L588,658.4 L590,657.61 L592,656.84 L594,656.08 L596,655.34 L598,654.6 L600,653.88 L602,653.17 L604,652.47 L606,651.78 L608,651.1 L610,650.44 L612,649.78 L614,649.14 L616,648.51 L618,647.89 L620,647.28 L622,646.68 L624,646.09 L626,645.51 L628,644.93 L630,644.37 L632,643.82 L634,643.28 L636,642.75 L638,642.22 L640,641.71 L642,641.2 L644,640.7 L646,640.21 L648,639.73 L650,639.26 L652,638.8 L654,638.34 L656,637.89 L658,637.45 L660,637.01 L662,636.58 L664,636.16 L666,635.75 L668,635.34 L670,634.94 L672,634.55 L674,634.16 L674.5,634.07" fill="none" stroke="#a8a8a8" stroke-width="1.6" stroke-linejoin="round" stroke-linecap="butt" stroke-dasharray="1.6 3.6" clip-path="url(#cc)"/>
<path d="M64.3,683.19 L66.3,683.64 L68.3,684.11 L70.3,684.59 L72.3,685.08 L74.3,685.59 L76.3,686.11 L78.3,686.65 L80.3,687.2 L82.3,687.78 L84.3,688.37 L86.3,688.98 L88.3,689.6 L90.3,690.25 L92.3,690.91 L94.3,691.6 L96.3,692.3 L98.3,693.03 L100.3,693.78 L102.3,694.55 L104.3,695.34 L106.3,696.16 L108.3,696.99 L110.3,697.86 L112.3,698.74 L114.3,699.65 L116.3,700.59 L118.3,701.55 L120.3,702.54 L122.3,703.56 L124.3,704.6 L126.3,705.67 L128.3,706.77 L130.3,707.89 L132.3,709.05 L134.3,710.23 L136.3,711.45 L138.3,712.7 L140.3,713.97 L142.3,715.28 L144.3,716.62 L146.3,718 L148.3,719.4 L150.3,720.84 L152.3,722.31 L154.3,723.82 L156.3,725.37 L158.3,726.94 L160.3,728.56 L162.3,730.21 L164.3,731.9 L166.3,733.62 L168.3,735.38 L170.3,737.18 L172.3,739.02 L174.3,740.9 L176.3,742.82 L178.3,744.78 L180.3,746.78 L182.3,748.82 L184.3,750.9 L186.3,753.02 L188.3,755.19 L189.4,756.4 L200.4,770.7 L213.7,786.1 L227.3,795.2 L240.9,788.6 L247.8,782.3 L249.8,780.42 L251.8,778.58 L253.8,776.79 L255.8,775.03 L257.8,773.32 L259.8,771.66 L261.8,770.04 L263.8,768.46 L265.8,766.93 L267.8,765.45 L269.8,764.02 L271.8,762.64 L273.8,761.31 L275.8,760.04 L277.8,758.81 L279.8,757.64 L281.8,756.53 L283.8,755.47 L285.8,754.47 L287.8,753.53 L289.8,752.64 L291.8,751.82 L293.8,751.06 L295.8,750.35 L297.8,749.7 L299.8,749.1 L301.8,748.55 L303.8,748.05 L305.8,747.6 L307.8,747.19 L309.8,746.83 L311.8,746.5 L313.8,746.21 L315.8,745.96 L317.8,745.74 L319.8,745.56 L321.8,745.4 L323.8,745.27 L325.8,745.17 L327.8,745.09 L329.8,745.04 L331.8,745.02 L333.8,745.03 L335.8,745.07 L337.8,745.15 L339.8,745.25 L341.8,745.38 L343.8,745.55 L345.8,745.76 L347.8,746 L349.8,746.27 L351.8,746.58 L353.8,746.93 L355.8,747.32 L357.8,747.75 L359.8,748.21 L361.8,748.72 L363.8,749.27 L365.8,749.86 L367.8,750.49 L369.8,751.15 L371.8,751.86 L373.8,752.6 L375.8,753.38 L377.8,754.18 L379.8,755.02 L381.8,755.89 L383.8,756.79 L385.8,757.72 L387.8,758.67 L389.8,759.65 L391.8,760.65 L393.8,761.68 L395,762.3 L403.5,766.4 L417.8,773.7 L431.3,774.4 L444.7,765.2 L458,751.7 L460,749.38 L462,747.07 L464,744.8 L466,742.55 L468,740.32 L470,738.13 L472,735.98 L474,733.86 L476,731.77 L478,729.73 L480,727.72 L482,725.76 L484,723.84 L486,721.96 L488,720.12 L490,718.32 L492,716.56 L494,714.84 L496,713.15 L498,711.5 L500,709.88 L502,708.3 L504,706.74 L506,705.22 L508,703.72 L510,702.26 L512,700.82 L514,699.41 L516,698.02 L518,696.66 L520,695.32 L522,694.01 L524,692.71 L526,691.44 L528,690.18 L530,688.95 L532,687.73 L534,686.53 L536,685.34 L538,684.17 L540,683.02 L542,681.89 L544,680.77 L546,679.67 L548,678.58 L550,677.51 L552,676.46 L554,675.42 L556,674.4 L558,673.39 L560,672.39 L562,671.42 L564,670.45 L566,669.51 L568,668.57 L570,667.65 L572,666.75 L574,665.86 L576,664.98 L578,664.11 L580,663.26 L582,662.43 L584,661.61 L586,660.79 L588,660 L590,659.21 L592,658.44 L594,657.68 L596,656.94 L598,656.2 L600,655.48 L602,654.77 L604,654.07 L606,653.38 L608,652.7 L610,652.04 L612,651.38 L614,650.74 L616,650.11 L618,649.49 L620,648.88 L622,648.28 L624,647.69 L626,647.11 L628,646.53 L630,645.97 L632,645.42 L634,644.88 L636,644.35 L638,643.82 L640,643.31 L642,642.8 L644,642.3 L646,641.81 L648,641.33 L650,640.86 L652,640.4 L654,639.94 L656,639.49 L658,639.05 L660,638.61 L662,638.18 L664,637.76 L666,637.35 L668,636.94 L670,636.54 L672,636.15 L674,635.76 L674.5,635.67" fill="none" stroke="#b0b0b0" stroke-width="1.6" stroke-linejoin="round" stroke-linecap="butt" stroke-dasharray="13.2 7.8" clip-path="url(#cc)"/>
<path d="M64.3,682.49 L66.3,682.94 L68.3,683.41 L70.3,683.89 L72.3,684.38 L74.3,684.89 L76.3,685.41 L78.3,685.95 L80.3,686.5 L82.3,687.08 L84.3,687.67 L86.3,688.28 L88.3,688.9 L90.3,689.55 L92.3,690.21 L94.3,690.9 L96.3,691.6 L98.3,692.33 L100.3,693.08 L102.3,693.85 L104.3,694.64 L106.3,695.46 L108.3,696.29 L110.3,697.16 L112.3,698.04 L114.3,698.95 L116.3,699.89 L118.3,700.85 L120.3,701.84 L122.3,702.86 L124.3,703.9 L126.3,704.97 L128.3,706.07 L130.3,707.19 L132.3,708.35 L134.3,709.53 L136.3,710.75 L138.3,712 L140.3,713.27 L142.3,714.58 L144.3,715.92 L146.3,717.3 L148.3,718.7 L150.3,720.14 L152.3,721.61 L154.3,723.12 L156.3,724.67 L158.3,726.24 L160.3,727.86 L162.3,729.51 L164.3,731.2 L166.3,732.92 L168.3,734.68 L170.3,736.48 L172.3,738.32 L174.3,740.2 L176.3,742.12 L178.3,744.08 L180.3,746.08 L182.3,748.12 L184.3,750.2 L186.3,752.32 L188.3,754.49 L189.4,755.7 L200.4,770 L213.7,785.4 L227.3,794.5 L240.9,789.8 L247.8,783.5 L249.8,781.62 L251.8,779.8 L253.8,778.02 L255.8,776.29 L257.8,774.61 L259.8,772.98 L261.8,771.4 L263.8,769.87 L265.8,768.38 L267.8,766.94 L269.8,765.55 L271.8,764.21 L273.8,762.91 L275.8,761.66 L277.8,760.46 L279.8,759.3 L281.8,758.18 L283.8,757.12 L285.8,756.09 L287.8,755.12 L289.8,754.18 L291.8,753.3 L293.8,752.45 L295.8,751.65 L297.8,750.89 L299.8,750.18 L301.8,749.51 L303.8,748.89 L305.8,748.3 L307.8,747.76 L309.8,747.26 L311.8,746.8 L313.8,746.39 L315.8,746.01 L317.8,745.68 L319.8,745.39 L321.8,745.13 L323.8,744.92 L325.8,744.75 L327.8,744.62 L329.8,744.53 L331.8,744.47 L333.8,744.46 L335.8,744.49 L337.8,744.55 L339.8,744.65 L341.8,744.79 L343.8,744.97 L345.8,745.19 L347.8,745.44 L349.8,745.73 L351.8,746.05 L353.8,746.42 L355.8,746.82 L357.8,747.25 L359.8,747.72 L361.8,748.23 L363.8,748.77 L365.8,749.35 L367.8,749.96 L369.8,750.61 L371.8,751.29 L373.8,752 L375.8,752.75 L377.8,753.53 L379.8,754.35 L381.8,755.2 L383.8,756.08 L385.8,756.99 L387.8,757.93 L389.8,758.91 L391.8,759.92 L393.8,760.96 L395,761.6 L403.5,765.7 L417.8,773 L431.3,773.7 L444.7,764.5 L458,750.4 L460,748.08 L462,745.77 L464,743.5 L466,741.25 L468,739.02 L470,736.83 L472,734.68 L474,732.56 L476,730.47 L478,728.43 L480,726.42 L482,724.46 L484,722.54 L486,720.66 L488,718.82 L490,717.02 L492,715.26 L494,713.54 L496,711.85 L498,710.2 L500,708.58 L502,707 L504,705.44 L506,703.92 L508,702.42 L510,700.96 L512,699.52 L514,698.11 L516,696.72 L518,695.36 L520,694.02 L522,692.71 L524,691.41 L526,690.14 L528,688.88 L530,687.65 L532,686.43 L534,685.23 L536,684.04 L538,682.87 L540,681.72 L542,680.59 L544,679.47 L546,678.37 L548,677.28 L550,676.21 L552,675.16 L554,674.12 L556,673.1 L558,672.09 L560,671.09 L562,670.12 L564,669.15 L566,668.21 L568,667.27 L570,666.35 L572,665.45 L574,664.56 L576,663.68 L578,662.81 L580,661.96 L582,661.13 L584,660.31 L586,659.49 L588,658.7 L590,657.91 L592,657.14 L594,656.38 L596,655.64 L598,654.9 L600,654.18 L602,653.47 L604,652.77 L606,652.08 L608,651.4 L610,650.74 L612,650.08 L614,649.44 L616,648.81 L618,648.19 L620,647.58 L622,646.98 L624,646.39 L626,645.81 L628,645.23 L630,644.67 L632,644.12 L634,643.58 L636,643.05 L638,642.52 L640,642.01 L642,641.5 L644,641 L646,640.51 L648,640.03 L650,639.56 L652,639.1 L654,638.64 L656,638.19 L658,637.75 L660,637.31 L662,636.88 L664,636.46 L666,636.05 L668,635.64 L670,635.24 L672,634.85 L674,634.46 L674.5,634.37" fill="none" stroke="#000000" stroke-width="1.6" stroke-linejoin="round" stroke-linecap="butt" clip-path="url(#cc)"/>
<path d="M64.3,682.99 L66.3,683.44 L68.3,683.91 L70.3,684.39 L72.3,684.88 L74.3,685.39 L76.3,685.91 L78.3,686.45 L80.3,687 L82.3,687.58 L84.3,688.17 L86.3,688.78 L88.3,689.4 L90.3,690.05 L92.3,690.71 L94.3,691.4 L96.3,692.1 L98.3,692.83 L100.3,693.58 L102.3,694.35 L104.3,695.14 L106.3,695.96 L108.3,696.79 L110.3,697.66 L112.3,698.54 L114.3,699.45 L116.3,700.39 L118.3,701.35 L120.3,702.34 L122.3,703.36 L124.3,704.4 L126.3,705.47 L128.3,706.57 L130.3,707.69 L132.3,708.85 L134.3,710.03 L136.3,711.25 L138.3,712.5 L140.3,713.77 L142.3,715.08 L144.3,716.42 L146.3,717.8 L148.3,719.2 L150.3,720.64 L152.3,722.11 L154.3,723.62 L156.3,725.17 L158.3,726.74 L160.3,728.36 L162.3,730.01 L164.3,731.7 L166.3,733.42 L168.3,735.18 L170.3,736.98 L172.3,738.82 L174.3,740.7 L176.3,742.62 L178.3,744.58 L180.3,746.58 L182.3,748.62 L184.3,750.7 L186.3,752.82 L188.3,754.99 L189.4,756.2 L200.4,770.5 L213.7,785.9 L227.3,795 L240.9,788.8 L247.8,782.5 L249.8,780.57 L251.8,778.69 L253.8,776.87 L255.8,775.1 L257.8,773.38 L259.8,771.72 L261.8,770.11 L263.8,768.55 L265.8,767.04 L267.8,765.59 L269.8,764.19 L271.8,762.84 L273.8,761.54 L275.8,760.3 L277.8,759.1 L279.8,757.96 L281.8,756.87 L283.8,755.84 L285.8,754.85 L287.8,753.92 L289.8,753.04 L291.8,752.21 L293.8,751.43 L295.8,750.7 L297.8,750.02 L299.8,749.39 L301.8,748.8 L303.8,748.26 L305.8,747.76 L307.8,747.3 L309.8,746.89 L311.8,746.52 L313.8,746.19 L315.8,745.89 L317.8,745.63 L319.8,745.41 L321.8,745.23 L323.8,745.08 L325.8,744.96 L327.8,744.87 L329.8,744.82 L331.8,744.8 L333.8,744.82 L335.8,744.87 L337.8,744.95 L339.8,745.07 L341.8,745.22 L343.8,745.4 L345.8,745.62 L347.8,745.88 L349.8,746.17 L351.8,746.49 L353.8,746.85 L355.8,747.24 L357.8,747.67 L359.8,748.13 L361.8,748.63 L363.8,749.16 L365.8,749.73 L367.8,750.33 L369.8,750.97 L371.8,751.64 L373.8,752.35 L375.8,753.1 L377.8,753.88 L379.8,754.7 L381.8,755.55 L383.8,756.44 L385.8,757.37 L387.8,758.33 L389.8,759.33 L391.8,760.37 L393.8,761.44 L395,762.1 L403.5,766.2 L417.8,773.5 L431.3,774.2 L444.7,765 L458,751.5 L460,749.18 L462,746.87 L464,744.6 L466,742.35 L468,740.12 L470,737.93 L472,735.78 L474,733.66 L476,731.57 L478,729.53 L480,727.52 L482,725.56 L484,723.64 L486,721.76 L488,719.92 L490,718.12 L492,716.36 L494,714.64 L496,712.95 L498,711.3 L500,709.68 L502,708.1 L504,706.54 L506,705.02 L508,703.52 L510,702.06 L512,700.62 L514,699.21 L516,697.82 L518,696.46 L520,695.12 L522,693.81 L524,692.51 L526,691.24 L528,689.98 L530,688.75 L532,687.53 L534,686.33 L536,685.14 L538,683.97 L540,682.82 L542,681.69 L544,680.57 L546,679.47 L548,678.38 L550,677.31 L552,676.26 L554,675.22 L556,674.2 L558,673.19 L560,672.19 L562,671.22 L564,670.25 L566,669.31 L568,668.37 L570,667.45 L572,666.55 L574,665.66 L576,664.78 L578,663.91 L580,663.06 L582,662.23 L584,661.41 L586,660.59 L588,659.8 L590,659.01 L592,658.24 L594,657.48 L596,656.74 L598,656 L600,655.28 L602,654.57 L604,653.87 L606,653.18 L608,652.5 L610,651.84 L612,651.18 L614,650.54 L616,649.91 L618,649.29 L620,648.68 L622,648.08 L624,647.49 L626,646.91 L628,646.33 L630,645.77 L632,645.22 L634,644.68 L636,644.15 L638,643.62 L640,643.11 L642,642.6 L644,642.1 L646,641.61 L648,641.13 L650,640.66 L652,640.2 L654,639.74 L656,639.29 L658,638.85 L660,638.41 L662,637.98 L664,637.56 L666,637.15 L668,636.74 L670,636.34 L672,635.95 L674,635.56 L674.5,635.47" fill="none" stroke="#b0b0b0" stroke-width="1.6" stroke-linejoin="round" stroke-linecap="butt" stroke-dasharray="10.6 3.6 2.7 4.1" clip-path="url(#cc)"/>
<path d="M132.49,796.5v-6 M132.49,606.5v6 M200.18,796.5v-6 M200.18,606.5v6 M267.87,796.5v-6 M267.87,606.5v6 M335.56,796.5v-6 M335.56,606.5v6 M403.24,796.5v-6 M403.24,606.5v6 M470.93,796.5v-6 M470.93,606.5v6 M538.62,796.5v-6 M538.62,606.5v6 M606.31,796.5v-6 M606.31,606.5v6 M64.8,733.17h6 M674,733.17h-6 M64.8,669.83h6 M674,669.83h-6" stroke="#262626" stroke-width="1" fill="none"/>
<rect x="64.8" y="606.5" width="609.2" height="190" fill="none" stroke="#262626" stroke-width="1.1"/>
<text x="64.8" y="818.6" font-size="17" text-anchor="middle">1</text>
<text x="132.49" y="818.6" font-size="17" text-anchor="middle">1.5</text>
<text x="200.18" y="818.6" font-size="17" text-anchor="middle">2</text>
<text x="267.87" y="818.6" font-size="17" text-anchor="middle">2.5</text>
<text x="335.56" y="818.6" font-size="17" text-anchor="middle">3</text>
<text x="403.24" y="818.6" font-size="17" text-anchor="middle">3.5</text>
<text x="470.93" y="818.6" font-size="17" text-anchor="middle">4</text>
<text x="538.62" y="818.6" font-size="17" text-anchor="middle">4.5</text>
<text x="606.31" y="818.6" font-size="17" text-anchor="middle">5</text>
<text x="674" y="818.6" font-size="17" text-anchor="middle">5.5</text>
<text x="57.2" y="802.6" font-size="17" text-anchor="end">-30</text>
<text x="57.2" y="739.27" font-size="17" text-anchor="end">-20</text>
<text x="57.2" y="675.93" font-size="17" text-anchor="end">-10</text>
<text x="57.2" y="612.6" font-size="17" text-anchor="end">0</text>
<text x="369.7" y="843.4" font-size="19.6" text-anchor="middle">Frequency [GHz]</text>
<text x="355.7" y="867.9" font-size="20.5" text-anchor="middle">(c)</text>
<g transform="rotate(-90)"><text x="-739.1" y="16.1" font-size="19.8">|</text><text x="-733.75" y="16.1" font-size="19.8" font-style="italic">S</text><text x="-724.05" y="25.7" font-size="14.8">11</text><text x="-709.2" y="16.1" font-size="19.8">| [dB]</text></g>
<rect x="544.3" y="698.9" width="112.9" height="80.4" fill="#fff" stroke="#262626" stroke-width="1"/>
<path d="M549.5,710.5H588.8" fill="none" stroke="#a8a8a8" stroke-width="2" stroke-linejoin="round" stroke-linecap="butt" stroke-dasharray="1.6 3.6"/>
<text x="592.9" y="715.3" font-size="15.5">LPW=20</text>
<path d="M549.5,729.6H588.8" fill="none" stroke="#b0b0b0" stroke-width="2" stroke-linejoin="round" stroke-linecap="butt" stroke-dasharray="13.2 7.8"/>
<text x="592.9" y="734.4" font-size="15.5">LPW=25</text>
<path d="M549.5,748.5H588.8" fill="none" stroke="#000000" stroke-width="2" stroke-linejoin="round" stroke-linecap="butt"/>
<text x="592.9" y="753.3" font-size="15.5">LPW=30</text>
<path d="M549.5,767.7H588.8" fill="none" stroke="#b0b0b0" stroke-width="2" stroke-linejoin="round" stroke-linecap="butt" stroke-dasharray="10.6 3.6 2.7 4.1"/>
<text x="592.9" y="772.5" font-size="15.5">LPW=40</text></svg>
</body></html>
